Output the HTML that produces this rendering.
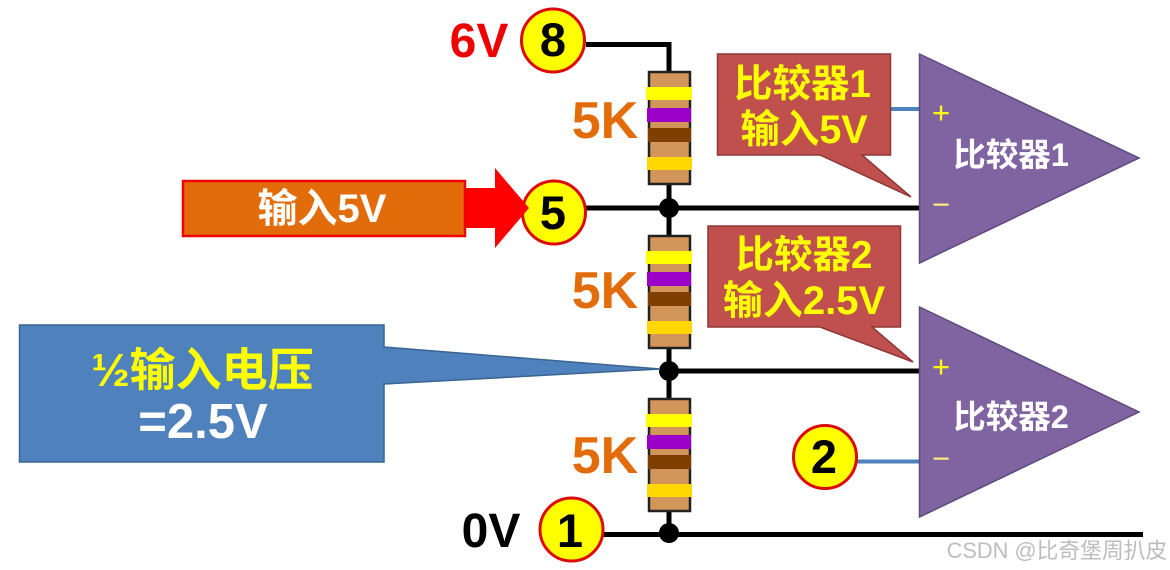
<!DOCTYPE html>
<html><head><meta charset="utf-8"><style>
html,body{margin:0;padding:0;background:#fff}
svg{display:block}
text{font-family:"Liberation Sans","Noto Sans CJK SC",sans-serif;font-weight:700;text-anchor:middle}
</style></head><body>
<svg width="1170" height="570" viewBox="0 0 1170 570" xmlns="http://www.w3.org/2000/svg">
<defs>
<g id="r">
<rect x="649" y="72" width="41" height="112" fill="#d2955a" stroke="#222" stroke-width="2.500"/>
<rect x="646" y="87" width="46" height="13" fill="#ffff00"/>
<rect x="647" y="108" width="44" height="14" fill="#9a00c8"/>
<rect x="648" y="128" width="43" height="14" fill="#7f3f00"/>
<rect x="647" y="157" width="45" height="13" fill="#ffd700"/>
</g>
</defs>
<rect width="1170" height="570" fill="#fff"/>
<!-- wires -->
<path d="M586 44.500H669V72" fill="none" stroke="#000" stroke-width="5"/>
<path d="M669 184V235M669 347V398M669 510V534" fill="none" stroke="#000" stroke-width="5"/>
<path d="M580 208H919M660 371H919M600 534.500H1143" fill="none" stroke="#000" stroke-width="5"/>
<path d="M880 109H919M856 461.500H919" fill="none" stroke="#4f81bd" stroke-width="4"/>
<use href="#r"/>
<use href="#r" y="164"/>
<use href="#r" y="327"/>
<circle cx="669" cy="208" r="10"/>
<circle cx="669" cy="371" r="10"/>
<circle cx="669" cy="533" r="10"/>
<!-- comparators -->
<path d="M919.500 54L1139 158L919.500 263Z" fill="#8064a2" stroke="#5f4a7c" stroke-width="1.500"/>
<path d="M919.500 307L1139 412L919.500 517Z" fill="#8064a2" stroke="#5f4a7c" stroke-width="1.500"/>
<text x="1011" y="166" font-size="32.500" fill="#fff">比较器1</text>
<text x="1011" y="428" font-size="32.500" fill="#fff">比较器2</text>
<text x="941" y="123" font-size="31" fill="#ffff00" style="font-weight:400">+</text>
<text x="941" y="215" font-size="31" fill="#ffe680" style="font-weight:400">−</text>
<text x="941" y="377" font-size="31" fill="#ffff00" style="font-weight:400">+</text>
<text x="941" y="469" font-size="31" fill="#ffe680" style="font-weight:400">−</text>
<!-- callouts -->
<path d="M717.500 54H890.500V155H862L911 197L820 155H717.500Z" fill="#c0504d" stroke="#8c3836" stroke-width="1.500"/>
<text x="802.500" y="97" font-size="38.500" fill="#ffff00">比较器1</text>
<text x="804" y="143" font-size="39.500" fill="#ffff00">输入5V</text>
<path d="M708 226H900.500V327H872L913 362L820 327H708Z" fill="#c0504d" stroke="#8c3836" stroke-width="1.500"/>
<text x="804" y="268" font-size="38.500" fill="#ffff00">比较器2</text>
<text x="804" y="314" font-size="40" fill="#ffff00">输入2.5V</text>
<path d="M19.500 325H384V347L660 369L384 384V462H19.500Z" fill="#4f81bd" stroke="#3a6491" stroke-width="1.500"/>
<text x="202.500" y="386" font-size="46" fill="#ffff00">½输入电压</text>
<text x="203" y="438" font-size="49" fill="#fff">=2.5V</text>
<!-- nodes -->
<g fill="#ffff00" stroke="#dd0a0a" stroke-width="3">
<circle cx="553" cy="40.500" r="31.500"/>
<circle cx="554" cy="212.500" r="31.500"/>
<circle cx="571.500" cy="529.500" r="31.500"/>
<circle cx="825" cy="457" r="31.500"/>
</g>
<text x="553" y="56" font-size="47">8</text>
<text x="553" y="229" font-size="47">5</text>
<text x="570" y="547" font-size="47">1</text>
<text x="824" y="473" font-size="47">2</text>
<!-- input arrow -->
<path d="M495 168L529 208L495 248V228H465V188H495Z" fill="#ff0000"/>
<rect x="183" y="181" width="282" height="55" fill="#e36c0a" stroke="#f00000" stroke-width="2.500"/>
<text x="322" y="222" font-size="40" fill="#fff">输入5V</text>
<!-- labels -->
<text x="479" y="57" font-size="48" fill="#ee0000">6V</text>
<text x="491" y="547" font-size="48" fill="#000">0V</text>
<text x="605" y="138" font-size="52" fill="#e36c0a">5K</text>
<text x="605" y="308" font-size="52" fill="#e36c0a">5K</text>
<text x="605" y="473" font-size="52" fill="#e36c0a">5K</text>
<!-- watermark -->
<text x="1057" y="558" font-size="21.800" fill="#bdbdbd" style="font-weight:400">CSDN @比奇堡周扒皮</text>
</svg>
</body></html>
